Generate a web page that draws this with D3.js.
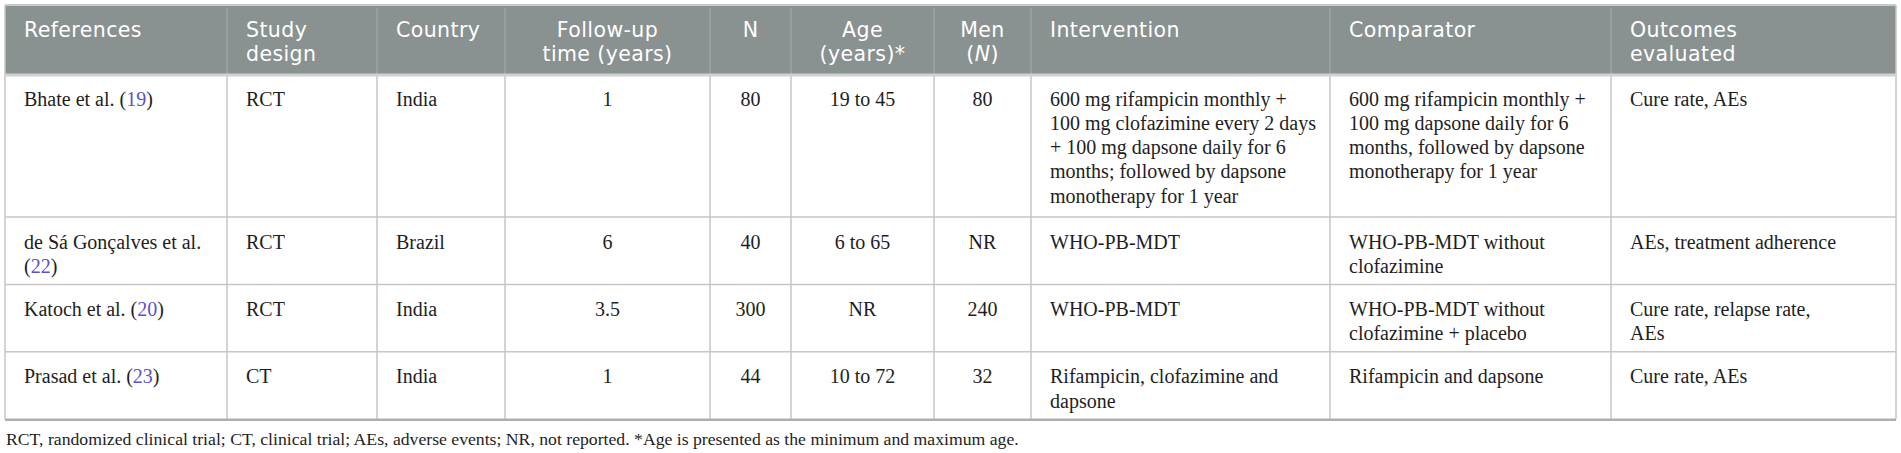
<!DOCTYPE html>
<html>
<head>
<meta charset="utf-8">
<script src="https://cdn.jsdelivr.net/npm/d3@7/dist/d3.min.js"></script>
<style>
html,body{margin:0;padding:0;background:#fff;}
svg{display:block;}
</style>
</head>
<body>
<svg id="chart" width="1901" height="453"></svg>
<script>
// ---------- DATA ----------
const headers = [
  ["References"],
  ["Study", "design"],
  ["Country"],
  ["Follow-up", "time (years)"],
  ["N"],
  ["Age", "(years)*"],
  ["Men", "(_N_)"],
  ["Intervention"],
  ["Comparator"],
  ["Outcomes", "evaluated"]
];
const references = [
  ["Bhate et al. ({19})"],
  ["de Sá Gonçalves et al.", "({22})"],
  ["Katoch et al. ({20})"],
  ["Prasad et al. ({23})"]
];
const studyDesign = ["RCT", "RCT", "RCT", "CT"];
const country = ["India", "Brazil", "India", "India"];
const followUp = ["1", "6", "3.5", "1"];
const sampleN = ["80", "40", "300", "44"];
const ageRange = ["19 to 45", "6 to 65", "NR", "10 to 72"];
const menN = ["80", "NR", "240", "32"];
const intervention = [
  ["600 mg rifampicin monthly +", "100 mg clofazimine every 2 days", "+ 100 mg dapsone daily for 6", "months; followed by dapsone", "monotherapy for 1 year"],
  ["WHO-PB-MDT"],
  ["WHO-PB-MDT"],
  ["Rifampicin, clofazimine and", "dapsone"]
];
const comparator = [
  ["600 mg rifampicin monthly +", "100 mg dapsone daily for 6", "months, followed by dapsone", "monotherapy for 1 year"],
  ["WHO-PB-MDT without", "clofazimine"],
  ["WHO-PB-MDT without", "clofazimine + placebo"],
  ["Rifampicin and dapsone"]
];
const outcomes = [
  ["Cure rate, AEs"],
  ["AEs, treatment adherence"],
  ["Cure rate, relapse rate,", "AEs"],
  ["Cure rate, AEs"]
];
const footnote = "RCT, randomized clinical trial; CT, clinical trial; AEs, adverse events; NR, not reported. *Age is presented as the minimum and maximum age.";

// ---------- LAYOUT ----------
const colEdges = [5, 227, 377, 505, 710, 791, 934, 1031, 1330, 1611, 1896];
const colAlign = ["left","left","left","middle","middle","middle","middle","left","left","left"];
const headerTop = 5, headerBottom = 74;
const lineH = 24.3, rowLineStep = 25.2, rowPad = 17;
const padX = 19;

const columns = [
  references,
  studyDesign.map(d => [d]),
  country.map(d => [d]),
  followUp.map(d => [d]),
  sampleN.map(d => [d]),
  ageRange.map(d => [d]),
  menN.map(d => [d]),
  intervention, comparator, outcomes
];
const nRows = studyDesign.length;
const rowLines = d3.range(nRows).map(r => d3.max(columns, c => c[r].length));
const rowBottoms = Array.from(d3.cumsum(rowLines.map(n => n * rowLineStep + rowPad))).map(v => v + headerBottom);
const rowTops = [headerBottom].concat(rowBottoms.slice(0, -1));
const tableBottom = rowBottoms[rowBottoms.length - 1];

const x = d3.scaleOrdinal().domain(d3.range(colEdges.length)).range(colEdges);
function colTextX(i) {
  return colAlign[i] === "middle" ? (x(i) + x(i + 1)) / 2 : x(i) + padX;
}

const svg = d3.select("#chart");
svg.append("rect").attr("width", 1901).attr("height", 453).attr("fill", "#fff");

// header band
svg.append("rect")
  .attr("x", x(0)).attr("y", headerTop)
  .attr("width", x(10) - x(0)).attr("height", headerBottom - headerTop)
  .attr("fill", "#8a9191");
svg.append("line").attr("x1", x(0)).attr("x2", x(10)).attr("y1", headerTop).attr("y2", headerTop)
  .attr("stroke", "#c8cbcb").attr("stroke-width", 2);
// header separators
svg.selectAll("line.hsep").data(d3.range(1, 10)).join("line")
  .attr("class", "hsep")
  .attr("x1", i => x(i)).attr("x2", i => x(i))
  .attr("y1", headerTop + 3).attr("y2", headerBottom)
  .attr("stroke", "#a6acac").attr("stroke-width", 1);

// body grid
const gridColor = "#c6c6c6";
svg.selectAll("line.vsep").data(d3.range(0, 11)).join("line")
  .attr("class", "vsep")
  .attr("x1", i => x(i)).attr("x2", i => x(i))
  .attr("y1", i => (i === 0 || i === 10) ? headerTop : headerBottom).attr("y2", tableBottom)
  .attr("stroke", gridColor).attr("stroke-width", 1.5);
svg.selectAll("line.rsep").data(rowBottoms.slice(0, -1)).join("line")
  .attr("class", "rsep")
  .attr("x1", x(0)).attr("x2", x(10))
  .attr("y1", d => d).attr("y2", d => d)
  .attr("stroke", gridColor).attr("stroke-width", 1.5);
svg.append("line").attr("x1", x(0)).attr("x2", x(10)).attr("y1", headerBottom + 1).attr("y2", headerBottom + 1)
  .attr("stroke", "#cfd2d2").attr("stroke-width", 3);
svg.append("line").attr("x1", x(0)).attr("x2", x(10)).attr("y1", tableBottom + 0.5).attr("y2", tableBottom + 0.5)
  .attr("stroke", "#abaeae").attr("stroke-width", 2.5);

// rich text helper: {..} = link colour, _.._ = italic
function addRich(parent, str) {
  const parts = str.split(/(\{[^}]*\}|_[^_]*_)/).filter(s => s.length);
  parts.forEach(p => {
    const t = parent.append("tspan");
    if (p.startsWith("{")) t.text(p.slice(1, -1)).attr("fill", "#5b4fd6");
    else if (p.startsWith("_")) t.text(p.slice(1, -1)).attr("font-style", "italic");
    else t.text(p);
  });
}

function cell(lines, xPos, yBase, anchor, font, size, fill, spacing, ls) {
  const t = svg.append("text")
    .attr("x", xPos).attr("y", yBase)
    .attr("text-anchor", anchor)
    .attr("font-family", font)
    .attr("font-size", size)
    .attr("letter-spacing", ls || 0)
    .attr("fill", fill);
  lines.forEach((ln, k) => {
    const line = t.append("tspan").attr("x", xPos).attr("y", yBase + k * spacing);
    addRich(line, ln);
  });
}

// header text
headers.forEach((lines, i) => {
  cell(lines, colTextX(i), headerTop + 32,
       colAlign[i] === "middle" ? "middle" : "start",
       "'DejaVu Sans', sans-serif", 20.5, "#ffffff", 24, 0.4);
});

// body text
columns.forEach((col, i) => {
  col.forEach((lines, r) => {
    cell(lines, colTextX(i), rowTops[r] + 31.5,
         colAlign[i] === "middle" ? "middle" : "start",
         "'Liberation Serif', 'Times New Roman', serif", 20, "#1e1e1e", lineH, 0);
  });
});

// footnote
svg.append("text")
  .attr("x", x(0) + 1)
  .attr("y", tableBottom + 26)
  .attr("font-family", "'Liberation Serif', 'Times New Roman', serif")
  .attr("font-size", 17.7)
  .attr("fill", "#1e1e1e")
  .text(footnote);
</script>
</body>
</html>
